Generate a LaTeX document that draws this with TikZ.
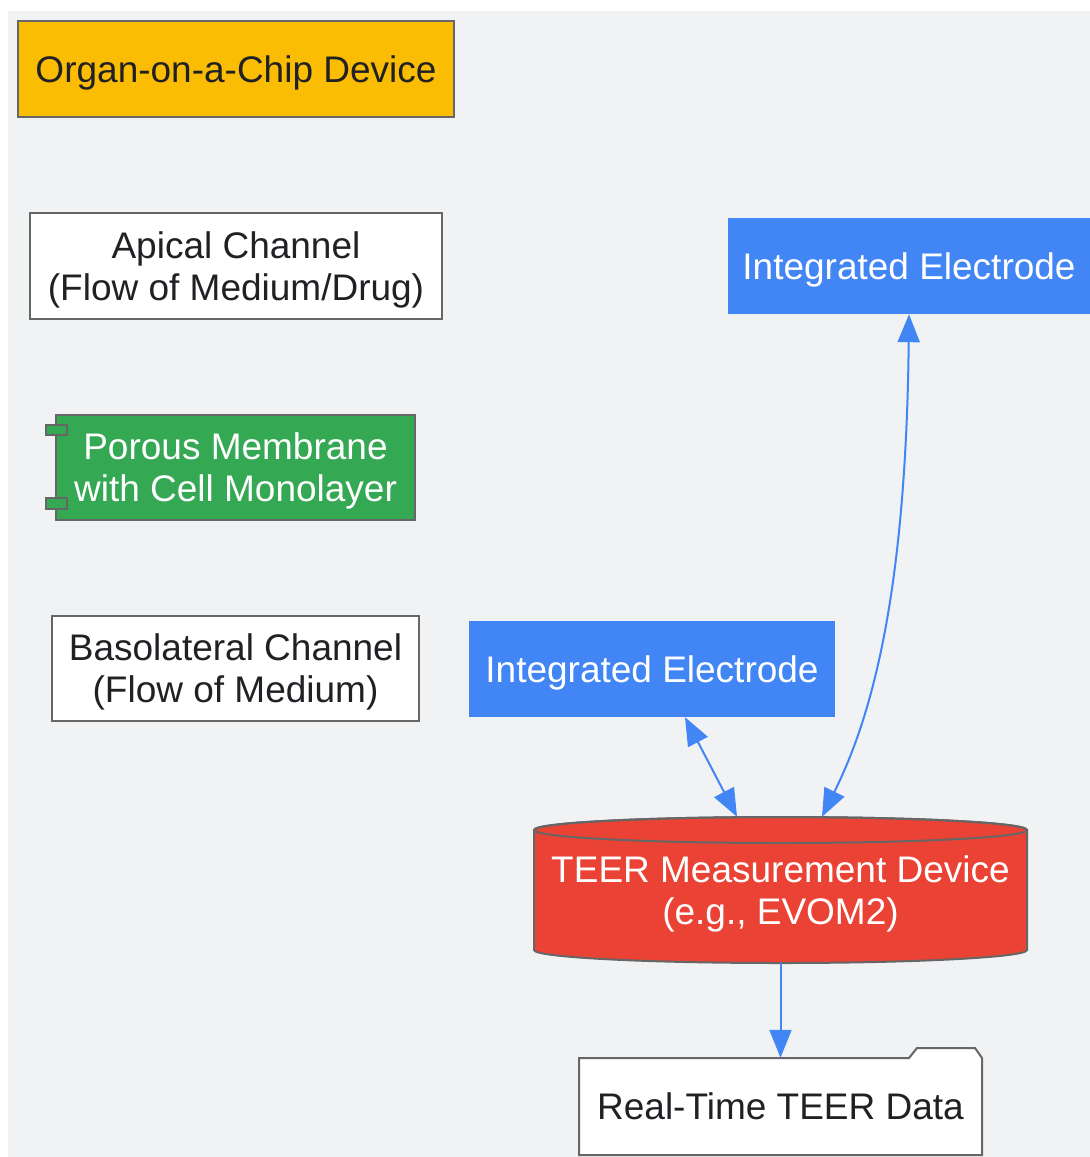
\documentclass[tikz,border=0pt]{standalone}
\usepackage{fontspec}
\setmainfont{Liberation Sans}
\usetikzlibrary{arrows.meta}
\definecolor{bggray}{HTML}{F1F2F4}
\definecolor{edgegray}{HTML}{666666}
\definecolor{chipyellow}{HTML}{FBBC04}
\definecolor{cellgreen}{HTML}{34A853}
\definecolor{probeblue}{HTML}{4285F4}
\definecolor{meterred}{HTML}{EA4335}
\definecolor{inkdark}{HTML}{202124}

\begin{document}
\begin{tikzpicture}[x=1pt, y=-1pt, >={Triangle[length=28pt,width=22pt]},
  every node/.style={font=\fontsize{37}{42}\selectfont, align=center, inner sep=0pt, text depth=0pt},
  box/.style={draw=edgegray, line width=2pt, text=inkdark},
  probe/.style={fill=probeblue, text=white, minimum width=362pt, minimum height=96pt},
  link/.style={probeblue, line width=2pt}]
  \useasboundingbox (0,0) rectangle (1090,1157);
  \fill[bggray] (8,11) rectangle (1090,1157);

  % chip layers, top to bottom
  \node[box, fill=chipyellow, minimum width=436pt, minimum height=96pt] (chip) at (236,69) {Organ-on-a-Chip Device};
  \node[box, fill=white, minimum width=412pt, minimum height=106pt] (apical) at (236,266) {Apical Channel\\(Flow of Medium/Drug)};
  \node[box, fill=cellgreen, text=white, minimum width=359pt, minimum height=105pt] (membrane) at (235.5,467.5) {Porous Membrane\\with Cell Monolayer};
  \filldraw[fill=cellgreen, draw=edgegray, line width=2pt] (46,425) rectangle (67,435) (46,498) rectangle (67,509);
  \node[box, fill=white, minimum width=367pt, minimum height=105pt] (baso) at (235.5,668.5) {Basolateral Channel\\(Flow of Medium)};

  % electrodes
  \node[probe] (upper) at (909,266) {Integrated Electrode};
  \node[probe, minimum width=366pt] (lower) at (652,669) {Integrated Electrode};

  % measurement device (cylinder)
  \filldraw[fill=meterred, draw=edgegray, line width=2pt] (534,830) -- (534,950)
    arc[start angle=180, end angle=0, x radius=246.5, y radius=13] -- (1027,830)
    arc[start angle=0, end angle=-180, x radius=246.5, y radius=13] -- cycle;
  \draw[edgegray, line width=2pt] (780.5,830) ellipse[x radius=246.5, y radius=13];
  \node[text=white, minimum width=493pt, minimum height=146pt] (teer) at (780.5,890) {TEER Measurement Device\\(e.g., EVOM2)};

  % data output (folder)
  \filldraw[fill=white, draw=edgegray, line width=2pt] (579,1058) -- (909,1058) -- (917,1048) -- (975,1048)
    -- (982,1058) -- (982,1155) -- (579,1155) -- cycle;
  \node[text=inkdark, minimum width=403pt, minimum height=97pt] (data) at (780.5,1106.5) {Real-Time TEER Data};

  \draw[link, <->] ([xshift=33pt]lower.south) -- ([xshift=-43.5pt]teer.north);
  \draw[link, <->] (upper.south) .. controls (906,600) and (870,720) .. ([xshift=41.5pt]teer.north);
  \draw[link, ->] (teer.south) -- (data.north);
\end{tikzpicture}
\end{document}
